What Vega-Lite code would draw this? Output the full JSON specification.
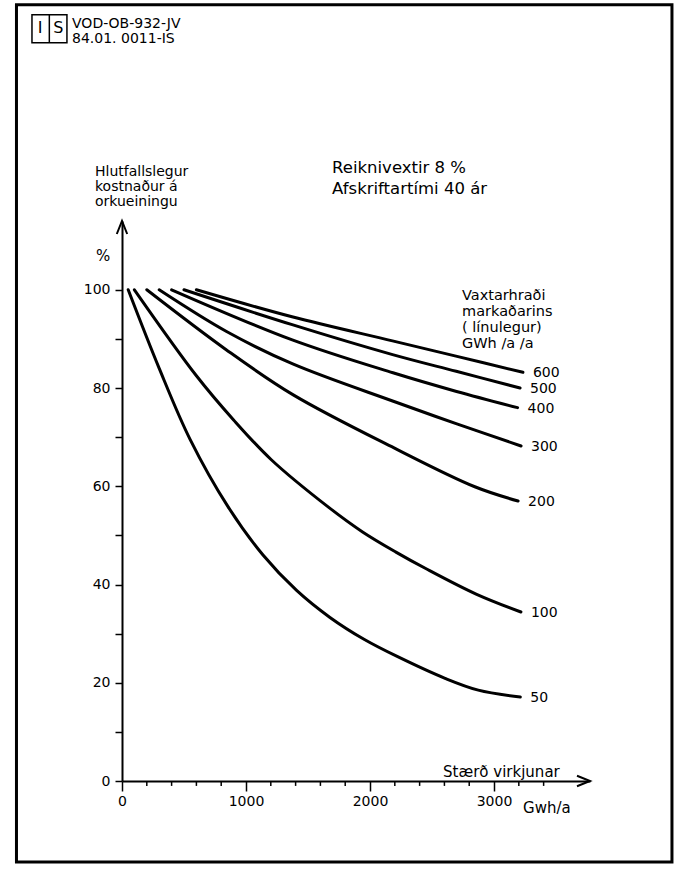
{
  "$schema": "https://vega.github.io/schema/vega-lite/v6.json",
  "width": 468,
  "height": 560,
  "autosize": {"type": "none"},
  "padding": {"left": 122, "top": 221, "right": 86, "bottom": 92},
  "background": "white",
  "config": {"view": {"stroke": null}, "font": "DejaVu Sans"},
  "datasets": {
    "curves": [
      {"r": 50, "x": 50, "y": 100}, {"r": 50, "x": 300, "y": 84}, {"r": 50, "x": 550, "y": 69.5}, {"r": 50, "x": 856, "y": 55.8}, {"r": 50, "x": 1137, "y": 46.0}, {"r": 50, "x": 1408, "y": 38.8}, {"r": 50, "x": 1677, "y": 33.3}, {"r": 50, "x": 1955, "y": 28.8}, {"r": 50, "x": 2223, "y": 25.3}, {"r": 50, "x": 2605, "y": 20.9}, {"r": 50, "x": 2873, "y": 18.5}, {"r": 50, "x": 3212, "y": 17.1},
      {"r": 100, "x": 100, "y": 100}, {"r": 100, "x": 600, "y": 82.5}, {"r": 100, "x": 900, "y": 73.5}, {"r": 100, "x": 1204, "y": 65.4}, {"r": 100, "x": 1662, "y": 55.8}, {"r": 100, "x": 1940, "y": 50.7}, {"r": 100, "x": 2209, "y": 46.6}, {"r": 100, "x": 2453, "y": 43.2}, {"r": 100, "x": 2860, "y": 38.0}, {"r": 100, "x": 3217, "y": 34.4},
      {"r": 200, "x": 200, "y": 100}, {"r": 200, "x": 840, "y": 87.8}, {"r": 200, "x": 1381, "y": 78.6}, {"r": 200, "x": 2194, "y": 67.8}, {"r": 200, "x": 2845, "y": 59.9}, {"r": 200, "x": 3194, "y": 57.0},
      {"r": 300, "x": 300, "y": 100}, {"r": 300, "x": 843, "y": 91.5}, {"r": 300, "x": 1377, "y": 84.9}, {"r": 300, "x": 2188, "y": 77.3}, {"r": 300, "x": 2700, "y": 72.7}, {"r": 300, "x": 3218, "y": 68.2},
      {"r": 400, "x": 400, "y": 100}, {"r": 400, "x": 1373, "y": 89.8}, {"r": 400, "x": 2185, "y": 83.1}, {"r": 400, "x": 2698, "y": 79.3}, {"r": 400, "x": 3190, "y": 76.0},
      {"r": 500, "x": 500, "y": 100}, {"r": 500, "x": 1372, "y": 92.9}, {"r": 500, "x": 2182, "y": 86.8}, {"r": 500, "x": 2695, "y": 83.4}, {"r": 500, "x": 3210, "y": 80.0},
      {"r": 600, "x": 600, "y": 100}, {"r": 600, "x": 1371, "y": 94.5}, {"r": 600, "x": 2181, "y": 89.6}, {"r": 600, "x": 2693, "y": 86.5}, {"r": 600, "x": 3233, "y": 83.2}
    ],
    "minorTicks": [
      {"v": 200}, {"v": 400}, {"v": 600}, {"v": 800}, {"v": 1200}, {"v": 1400}, {"v": 1600}, {"v": 1800},
      {"v": 2200}, {"v": 2400}, {"v": 2600}, {"v": 2800}, {"v": 3200}, {"v": 3400}
    ]
  },
  "layer": [
    {
      "data": {"name": "curves"},
      "mark": {"type": "line", "color": "black", "strokeWidth": 3, "interpolate": "catmull-rom", "strokeCap": "round", "strokeJoin": "round"},
      "encoding": {
        "x": {
          "field": "x", "type": "quantitative",
          "scale": {"domain": [0, 3774], "nice": false, "zero": false},
          "axis": {
            "title": null, "grid": false,
            "values": [0, 1000, 2000, 3000],
            "format": "d",
            "domainColor": "black", "domainWidth": 2,
            "tickColor": "black", "tickWidth": 1.5, "tickSize": 10,
            "labelFontSize": 14, "labelFont": "DejaVu Sans", "labelColor": "black",
            "labelPadding": 3, "labelFlush": false, "labelOverlap": false
          }
        },
        "y": {
          "field": "y", "type": "quantitative",
          "scale": {"domain": [0, 114], "nice": false},
          "axis": {
            "title": null, "grid": false,
            "values": [0, 10, 20, 30, 40, 50, 60, 70, 80, 90, 100],
            "labelExpr": "datum.value % 20 === 0 ? datum.label : ''",
            "domainColor": "black", "domainWidth": 2,
            "tickColor": "black", "tickWidth": 1.5, "tickSize": 7,
            "labelFontSize": 14, "labelFont": "DejaVu Sans", "labelColor": "black",
            "labelPadding": 5, "labelFlush": false, "labelOverlap": false
          }
        },
        "detail": {"field": "r", "type": "nominal"}
      }
    },
    {
      "data": {"name": "minorTicks"},
      "mark": {"type": "rule", "stroke": "black", "strokeWidth": 1.5},
      "encoding": {
        "x": {"field": "v", "type": "quantitative"},
        "y": {"datum": 0, "type": "quantitative"},
        "y2": {"datum": -1.0}
      }
    },
    {
      "data": {"name": "curves"},
      "transform": [
        {"joinaggregate": [{"op": "max", "field": "x", "as": "xmax"}], "groupby": ["r"]},
        {"filter": "datum.x === datum.xmax"}
      ],
      "mark": {"type": "text", "align": "left", "baseline": "middle", "dx": 10, "dy": 1, "fontSize": 14, "font": "DejaVu Sans", "color": "black"},
      "encoding": {
        "x": {"field": "x", "type": "quantitative"},
        "y": {"field": "y", "type": "quantitative"},
        "text": {"field": "r", "type": "nominal"}
      }
    },
    {
      "data": {"values": [{}]},
      "mark": {"type": "point", "shape": "M -1 -0.4 L 0 0 L -1 0.4", "size": 676, "filled": false, "stroke": "black", "strokeWidth": 2, "opacity": 1},
      "encoding": {
        "x": {"datum": 3774, "type": "quantitative"},
        "y": {"datum": 0, "type": "quantitative"}
      }
    },
    {
      "data": {"values": [{}]},
      "mark": {"type": "point", "shape": "M -0.4 1 L 0 0 L 0.4 1", "size": 676, "filled": false, "stroke": "black", "strokeWidth": 2, "opacity": 1},
      "encoding": {
        "x": {"datum": 0, "type": "quantitative"},
        "y": {"datum": 114, "type": "quantitative"}
      }
    },
    {
      "data": {"values": [{}]},
      "mark": {"type": "rect", "filled": false, "stroke": "black", "strokeWidth": 3},
      "encoding": {
        "x": {"datum": -851, "type": "quantitative"},
        "x2": {"datum": 4435},
        "y": {"datum": 158.0, "type": "quantitative"},
        "y2": {"datum": -16.5}
      }
    },
    {
      "data": {"values": [{}]},
      "mark": {"type": "rect", "filled": false, "stroke": "black", "strokeWidth": 1.5},
      "encoding": {
        "x": {"datum": -726, "type": "quantitative"},
        "x2": {"datum": -444},
        "y": {"datum": 156, "type": "quantitative"},
        "y2": {"datum": 150.3}
      }
    },
    {
      "data": {"values": [{}]},
      "mark": {"type": "rule", "stroke": "black", "strokeWidth": 1.5},
      "encoding": {
        "x": {"datum": -586, "type": "quantitative"},
        "y": {"datum": 156, "type": "quantitative"},
        "y2": {"datum": 150.3}
      }
    },
    {
      "data": {"values": [{}]},
      "mark": {"type": "text", "text": "I", "align": "center", "baseline": "middle", "fontSize": 16, "font": "DejaVu Sans", "color": "black"},
      "encoding": {
        "x": {"datum": -661, "type": "quantitative"},
        "y": {"datum": 153.2, "type": "quantitative"}
      }
    },
    {
      "data": {"values": [{}]},
      "mark": {"type": "text", "text": "S", "align": "center", "baseline": "middle", "fontSize": 16, "font": "DejaVu Sans", "color": "black"},
      "encoding": {
        "x": {"datum": -514, "type": "quantitative"},
        "y": {"datum": 153.2, "type": "quantitative"}
      }
    },
    {
      "data": {"values": [{}]},
      "mark": {"type": "text", "text": ["VOD-OB-932-JV", "84.01. 0011-IS"], "align": "left", "baseline": "top", "lineHeight": 15, "fontSize": 14, "font": "DejaVu Sans", "color": "black"},
      "encoding": {
        "x": {"datum": -403, "type": "quantitative"},
        "y": {"datum": 155.6, "type": "quantitative"}
      }
    },
    {
      "data": {"values": [{}]},
      "mark": {"type": "text", "text": ["Hlutfallslegur", "kostnaður á", "orkueiningu"], "align": "left", "baseline": "top", "lineHeight": 15, "fontSize": 14, "font": "DejaVu Sans", "color": "black"},
      "encoding": {
        "x": {"datum": -218, "type": "quantitative"},
        "y": {"datum": 125.5, "type": "quantitative"}
      }
    },
    {
      "data": {"values": [{}]},
      "mark": {"type": "text", "text": "%", "align": "center", "baseline": "middle", "fontSize": 15, "font": "DejaVu Sans", "color": "black"},
      "encoding": {
        "x": {"datum": -153, "type": "quantitative"},
        "y": {"datum": 106.8, "type": "quantitative"}
      }
    },
    {
      "data": {"values": [{}]},
      "mark": {"type": "text", "text": ["Reiknivextir 8 %", "Afskriftartími 40 ár"], "align": "left", "baseline": "top", "lineHeight": 21, "fontSize": 16.5, "font": "DejaVu Sans", "color": "black"},
      "encoding": {
        "x": {"datum": 1694, "type": "quantitative"},
        "y": {"datum": 126.5, "type": "quantitative"}
      }
    },
    {
      "data": {"values": [{}]},
      "mark": {"type": "text", "text": ["Vaxtarhraði", "markaðarins", "( línulegur)", "GWh /a /a"], "align": "left", "baseline": "top", "lineHeight": 16, "fontSize": 14.5, "font": "DejaVu Sans", "color": "black"},
      "encoding": {
        "x": {"datum": 2742, "type": "quantitative"},
        "y": {"datum": 100.2, "type": "quantitative"}
      }
    },
    {
      "data": {"values": [{}]},
      "mark": {"type": "text", "text": "Stærð virkjunar", "align": "left", "baseline": "top", "fontSize": 15, "font": "DejaVu Sans", "color": "black"},
      "encoding": {
        "x": {"datum": 2589, "type": "quantitative"},
        "y": {"datum": 3.2, "type": "quantitative"}
      }
    },
    {
      "data": {"values": [{}]},
      "mark": {"type": "text", "text": "Gwh/a", "align": "left", "baseline": "top", "fontSize": 15, "font": "DejaVu Sans", "color": "black"},
      "encoding": {
        "x": {"datum": 3234, "type": "quantitative"},
        "y": {"datum": -4.0, "type": "quantitative"}
      }
    }
  ]
}
